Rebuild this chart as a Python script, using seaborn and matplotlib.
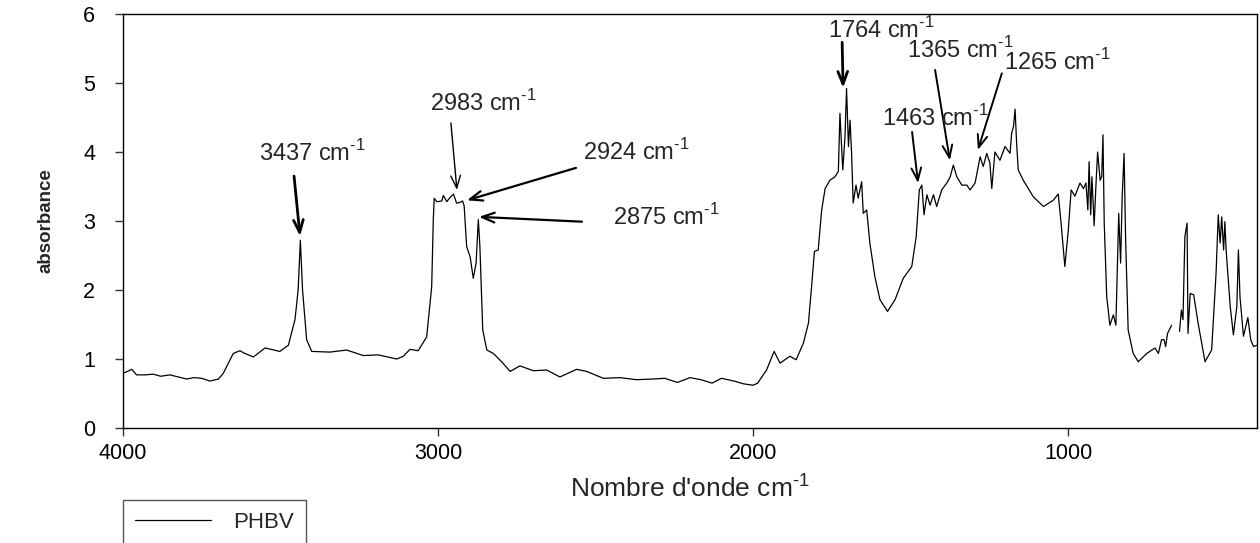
import numpy as np
import pandas as pd
import matplotlib
matplotlib.use("Agg")
import matplotlib.pyplot as plt
import seaborn as sns

# ---- data ----
wn_a = [4000, 3972, 3957, 3930, 3904, 3880, 3851, 3825, 3798, 3775, 3750, 3724, 3697, 3682,
        3650, 3629, 3613, 3586, 3549, 3502, 3475, 3454, 3444, 3437, 3430, 3417, 3401, 3343,
        3290, 3237, 3190, 3131, 3110, 3089, 3063, 3036, 3020, 3015, 3012, 3004, 2988, 2983,
        2972, 2962, 2951, 2941, 2930, 2922, 2917, 2909, 2898, 2888, 2879, 2872, 2867, 2858,
        2845, 2824, 2798, 2771, 2740, 2697, 2655, 2613, 2560, 2528, 2475, 2422, 2370, 2317,
        2280, 2240, 2200, 2165, 2130, 2100, 2060, 2030, 2000, 1985, 1978, 1957, 1933, 1914,
        1883, 1863, 1840, 1824, 1814, 1805, 1793, 1782, 1771, 1756, 1740, 1729, 1724, 1715,
        1708, 1703, 1697, 1692, 1687, 1682, 1673, 1666, 1655, 1650, 1639, 1629, 1613, 1597,
        1573, 1549, 1523, 1496, 1482, 1472, 1464, 1457, 1448, 1438, 1427, 1417, 1401, 1385,
        1374, 1364, 1353, 1337, 1321, 1311, 1295, 1279, 1269, 1258, 1248, 1242, 1232, 1216,
        1200, 1184, 1179, 1173, 1168, 1163, 1158, 1142, 1110, 1078, 1047, 1031, 1022, 1010,
        999, 990, 978, 962, 951, 943, 937, 933, 928, 924, 917, 911, 906, 898, 893, 889, 885,
        877, 867, 856, 848, 839, 833, 828, 822, 817, 809, 793, 777, 750, 724, 713, 703, 695,
        690, 684, 671]
ab_a = [0.79, 0.85, 0.77, 0.77, 0.78, 0.75, 0.77, 0.74, 0.71, 0.73, 0.72, 0.68, 0.71, 0.79,
        1.08, 1.12, 1.08, 1.03, 1.16, 1.11, 1.20, 1.57, 2.00, 2.72, 2.00, 1.28, 1.11, 1.10,
        1.13, 1.05, 1.06, 1.00, 1.04, 1.14, 1.12, 1.32, 2.05, 3.01, 3.33, 3.28, 3.29, 3.37,
        3.28, 3.34, 3.39, 3.26, 3.27, 3.29, 3.22, 2.63, 2.48, 2.17, 2.39, 3.02, 2.63, 1.42,
        1.13, 1.08, 0.96, 0.82, 0.90, 0.83, 0.84, 0.74, 0.85, 0.82, 0.72, 0.73, 0.70, 0.71,
        0.72, 0.66, 0.73, 0.70, 0.65, 0.72, 0.68, 0.64, 0.62, 0.65, 0.70, 0.84, 1.11, 0.94,
        1.04, 0.99, 1.23, 1.52, 2.05, 2.56, 2.58, 3.16, 3.47, 3.59, 3.64, 3.72, 4.56, 3.74,
        4.22, 4.92, 4.08, 4.46, 3.98, 3.26, 3.52, 3.33, 3.57, 3.11, 3.16, 2.68, 2.19, 1.86,
        1.69, 1.86, 2.17, 2.34, 2.77, 3.45, 3.52, 3.09, 3.38, 3.23, 3.38, 3.21, 3.45, 3.55,
        3.64, 3.81, 3.64, 3.52, 3.52, 3.45, 3.55, 3.93, 3.79, 3.98, 3.84, 3.47, 4.00, 3.88,
        4.08, 3.98, 4.27, 4.37, 4.62, 4.12, 3.74, 3.59, 3.35, 3.21, 3.30, 3.39, 2.97, 2.34,
        2.87, 3.45, 3.36, 3.55, 3.47, 3.55, 3.16, 3.86, 3.09, 3.64, 2.93, 3.55, 4.00, 3.59,
        3.64, 4.25, 2.97, 1.90, 1.49, 1.64, 1.49, 3.11, 2.39, 3.35, 3.98, 2.72, 1.42, 1.08,
        0.96, 1.08, 1.16, 1.08, 1.28, 1.28, 1.18, 1.37, 1.49]
wn_b = [646, 640, 635, 629, 622, 619, 612, 601, 587, 565, 544, 530, 523, 517, 512, 506, 502,
        498, 485, 475, 464, 459, 454, 443, 429, 420, 411, 400]
ab_b = [1.40, 1.71, 1.57, 2.77, 2.97, 1.37, 1.95, 1.93, 1.52, 0.96, 1.13, 2.24, 3.09, 2.68,
        3.06, 2.58, 2.99, 2.58, 1.76, 1.35, 1.76, 2.58, 1.90, 1.33, 1.60, 1.28, 1.18, 1.20]

x_ticks = [4000, 3000, 2000, 1000]
y_ticks = [0, 1, 2, 3, 4, 5, 6]
peak_labels = ["3437", "2983", "2924", "2875", "1764", "1365", "1265", "1463"]
series_name = "PHBV"

# ---- figure ----
sns.set_style("ticks")
plt.rcParams["font.family"] = ["Liberation Sans", "DejaVu Sans"]
plt.rcParams["mathtext.fontset"] = "custom"
plt.rcParams["mathtext.rm"] = "Liberation Sans"

df = pd.DataFrame({
    "wn": wn_a + wn_b,
    "ab": ab_a + ab_b,
    "seg": ["a"] * len(wn_a) + ["b"] * len(wn_b),
})

fig = plt.figure(figsize=(12.6, 5.43), dpi=100)
ax = fig.add_axes([123 / 1260, 1 - 428 / 543, (1257 - 123) / 1260, (428 - 14) / 543])

sns.lineplot(data=df, x="wn", y="ab", units="seg", estimator=None, sort=False,
             color="black", lw=0.9, ax=ax, legend=False)

ax.set_xlim(4000, 400)
ax.set_ylim(0, 6)
ax.set_xticks(x_ticks)
ax.set_yticks(y_ticks)
ax.tick_params(axis="both", labelsize=15.5, length=6, width=1, color="#333333",
               direction="out", labelcolor="black")
ax.tick_params(axis="x", pad=5)
ax.tick_params(axis="y", pad=14)
for s in ax.spines.values():
    s.set_visible(True)
    s.set_color("black")
    s.set_linewidth(1.0)

SUP = r"$^{\text{-1}}$"
ax.set_xlabel("Nombre d'onde cm" + SUP, fontsize=19, labelpad=7)
ax.set_ylabel("absorbance", fontsize=13.5, fontweight="bold")
ax.yaxis.set_label_coords(-0.06, 0.5)

ann_geom = [
    ((3400, 3.99), (3457, 3.65), (3438, 2.78), 2.0),
    ((2855, 4.71), (2959, 4.42), (2940, 3.45), 1.0),
    ((2371, 4.00), (2562, 3.77), (2908, 3.30), 1.6),
    ((2276, 3.06), (2543, 2.99), (2870, 3.06), 1.6),
    ((1591, 5.77), (1717, 5.59), (1714, 4.93), 2.0),
    ((1343, 5.48), (1422, 5.19), (1375, 3.88), 1.4),
    ((1035, 5.30), (1210, 5.14), (1286, 4.03), 1.4),
    ((1422, 4.49), (1495, 4.29), (1476, 3.55), 1.4),
]
for lab, (tpos, tail, tip, lw) in zip(peak_labels, ann_geom):
    ax.text(tpos[0], tpos[1], lab + " cm" + SUP, fontsize=17, ha="center", va="center")
    ax.annotate("", xy=tip, xytext=tail,
                arrowprops=dict(arrowstyle="->,head_length=0.9,head_width=0.35",
                                lw=lw, color="black", shrinkA=0, shrinkB=0))

leg_handle = plt.Line2D([], [], color="black", lw=0.9)
fig.legend([leg_handle], [series_name], loc="upper left",
           bbox_to_anchor=(123 / 1260, 1 - 500 / 543), fontsize=16,
           frameon=True, fancybox=False, edgecolor="#555555", framealpha=1,
           handlelength=3.4, handletextpad=1.0, borderpad=0.55, borderaxespad=0)

fig.savefig("out.png", dpi=100)
